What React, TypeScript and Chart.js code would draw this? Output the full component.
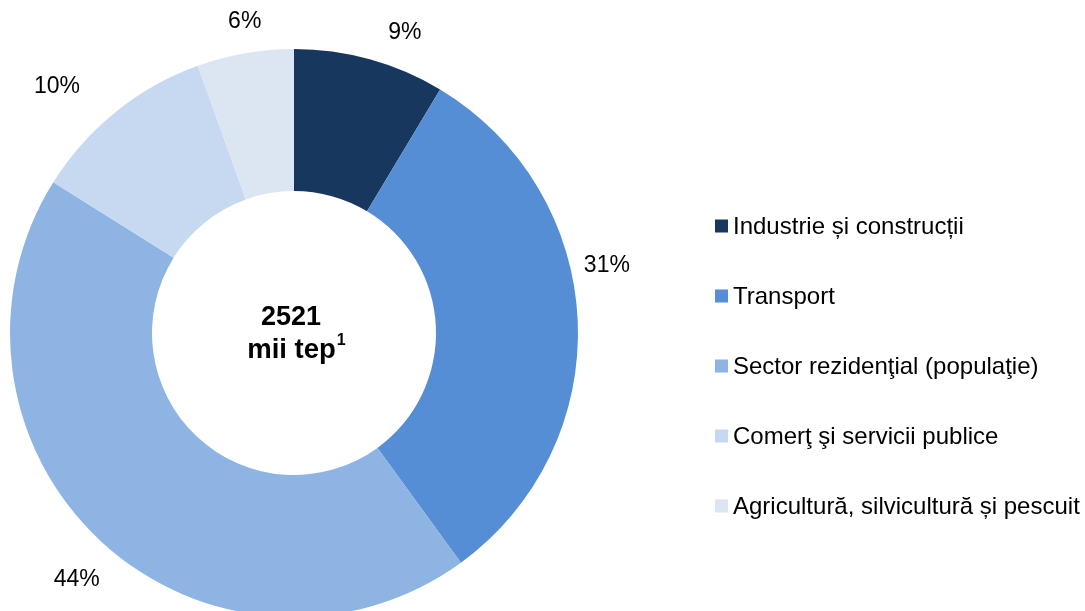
import React, { useEffect, useRef } from "react";
import { Chart, registerables } from "chart.js";

Chart.register(...registerables);

const categories = [
  "Industrie și construcții",
  "Transport",
  "Sector rezidenţial (populaţie)",
  "Comerţ şi servicii publice",
  "Agricultură, silvicultură și pescuit",
];
const shares = [8.6, 31.4, 43.9, 10.6, 5.5];
const shareLabels = ["9%", "31%", "44%", "10%", "6%"];
const colors = ["#17375E", "#558ED5", "#8EB4E3", "#C6D9F1", "#DCE6F2"];
const centerValue = "2521";
const centerUnit = "mii tep";
const centerNote = "1";

const FONT = "'Liberation Sans', Arial, sans-serif";

const overlayPlugin = {
  id: "overlay",
  afterDraw(chart: any, _args: any, opts: any) {
    const ctx = chart.ctx;
    const meta = chart.getDatasetMeta(0);
    const arcs = meta.data;
    if (!arcs.length) return;
    const cx = arcs[0].x;
    const cy = arcs[0].y;
    const outer = arcs[0].outerRadius;
    ctx.save();
    // percentage labels
    ctx.fillStyle = "#000";
    ctx.font = `23px ${FONT}`;
    ctx.textAlign = "center";
    ctx.textBaseline = "middle";
    arcs.forEach((arc: any, i: number) => {
      const mid = (arc.startAngle + arc.endAngle) / 2 + ((opts.angleNudge[i] || 0) * Math.PI) / 180;
      const r = outer + (opts.radiusExtra[i] || 0);
      ctx.fillText(shareLabels[i], cx + r * Math.cos(mid), cy + r * Math.sin(mid));
    });
    // center text
    ctx.font = `bold 27px ${FONT}`;
    ctx.textBaseline = "alphabetic";
    ctx.fillText(centerValue, cx - 3, cy - 8);
    ctx.font = `bold 27.5px ${FONT}`;
    const w1 = ctx.measureText(centerUnit).width;
    ctx.font = `bold 16px ${FONT}`;
    const w2 = ctx.measureText(centerNote).width;
    const start = cx + 2 - (w1 + w2) / 2;
    ctx.textAlign = "left";
    ctx.font = `bold 27.5px ${FONT}`;
    ctx.fillText(centerUnit, start, cy + 25);
    ctx.font = `bold 16px ${FONT}`;
    ctx.fillText(centerNote, start + w1 + 1, cy + 12);
    // legend
    const lx = opts.legendX;
    let ly = opts.legendTop;
    ctx.font = `24px ${FONT}`;
    ctx.textBaseline = "middle";
    categories.forEach((c, i) => {
      ctx.fillStyle = colors[i];
      ctx.fillRect(lx, ly - 6.5, 13, 13);
      ctx.fillStyle = "#000";
      ctx.fillText(c, lx + 18, ly + 1);
      ly += opts.legendStep;
    });
    ctx.restore();
  },
};

export default function App() {
  const ref = useRef<HTMLCanvasElement>(null);
  useEffect(() => {
    if (!ref.current) return;
    const chart = new Chart(ref.current, {
      type: "doughnut",
      data: {
        labels: categories,
        datasets: [
          {
            data: shares,
            backgroundColor: colors,
            borderWidth: 0,
            hoverOffset: 0,
          },
        ],
      },
      options: {
        responsive: false,
        animation: false,
        cutout: "50%",
        layout: { padding: { left: 10, top: 49, right: 507, bottom: 9 } },
        plugins: {
          legend: { display: false },
          tooltip: { enabled: false },
          overlay: {
            angleNudge: [4.8, -9.6, -1.7, -5.0, 0.9],
            radiusExtra: [36, 36, 45, 58, 31],
            legendX: 715,
            legendTop: 226,
            legendStep: 70,
          },
        } as any,
      },
      plugins: [overlayPlugin],
    });
    return () => chart.destroy();
  }, []);
  return (
    <div style={{ position: "absolute", left: 0, top: 0, width: 1085, height: 611, overflow: "hidden", background: "#fff" }}>
      <canvas ref={ref} width={1085} height={626} style={{ display: "block" }} />
    </div>
  );
}
